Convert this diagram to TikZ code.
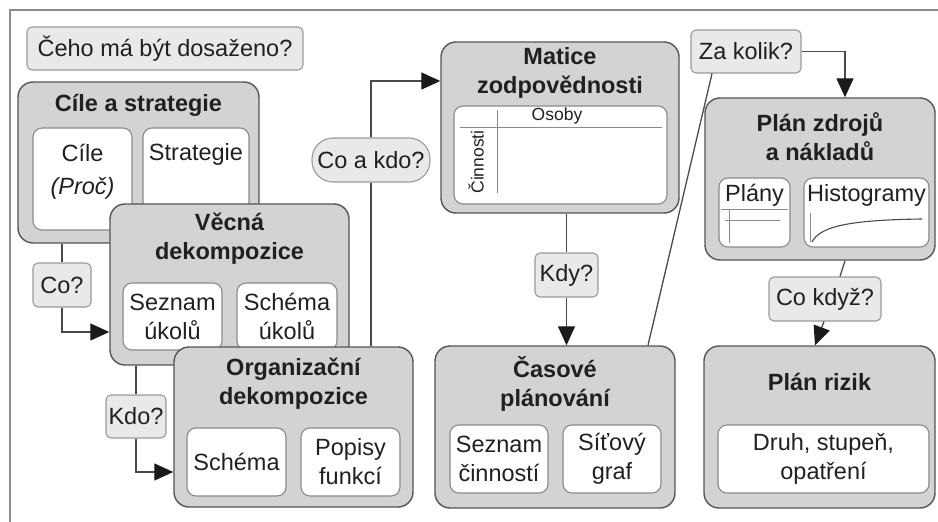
\documentclass[tikz,border=0pt]{standalone}
\usepackage{fontspec}
\setmainfont{Liberation Sans}
\usetikzlibrary{arrows.meta,calc}
\definecolor{boxgray}{HTML}{D3D3D3}
\definecolor{lblgray}{HTML}{E9E9E9}
\definecolor{bdr}{HTML}{555555}
\definecolor{ibdr}{HTML}{8A8A8A}
\definecolor{lbdr}{HTML}{9A9A9A}
\definecolor{lin}{HTML}{4A4A4A}
\definecolor{tipc}{HTML}{1A1A1A}
\definecolor{txtc}{HTML}{202020}
\definecolor{frm}{HTML}{8C8C8C}
\newcommand\fr{\fontsize{23.5}{29}\selectfont}
\newcommand\fb{\fontsize{23.5}{29}\selectfont\bfseries}
\newcommand\fsm{\fontsize{17.5}{20}\selectfont}
\newcommand\bx[7]{%
  \pgfmathsetmacro\bxw{#5-#3}\pgfmathsetmacro\bxh{#6-#4}%
  \pgfmathsetmacro\bxx{(#3+#5)/2}\pgfmathsetmacro\bxy{(#4+#6)/2}%
  \node[#2, minimum width=\bxw pt, minimum height=\bxh pt] (#1) at (\bxx,\bxy) {#7};}
\begin{document}
\begin{tikzpicture}[x=1pt,y=-1pt,
  big/.style={draw=bdr, fill=boxgray, rounded corners=15pt, line width=1.4pt, inner sep=0pt},
  inner/.style={draw=ibdr, fill=white, rounded corners=9pt, line width=1.1pt, inner sep=1pt,
    align=center, font=\fr, text=txtc},
  lbl/.style={draw=lbdr, fill=lblgray, rounded corners=5pt, line width=1.1pt, inner sep=1pt,
    align=center, font=\fr, text=txtc},
  pill/.style={lbl, rounded corners=21pt},
  title/.style={font=\fb, text=txtc, align=center, inner sep=0pt},
  txt/.style={font=\fr, text=txtc, align=center, inner sep=0pt},
  small/.style={font=\fsm, text=txtc, inner sep=0pt},
  detail/.style={draw=ibdr, line width=1pt},
  conn/.style={draw=lin, line width=1.3pt},
  arr/.style={conn, -{Triangle[length=19pt,width=17pt,color=tipc]}}]
\useasboundingbox (0,0) rectangle (938,522);
% frame
\draw[frm, line width=2.5pt] (10,522) -- (10,10) -- (938,10);

\bx{goal}{lbl}{27}{27}{303}{70}{Čeho má být dosaženo?}

% Cile a strategie
\bx{cile}{big}{18}{82}{259}{243}{}
\node[title] (cilet) at ([yshift=-24pt]cile.north) {Cíle a strategie};
\bx{cilei}{inner}{33}{128}{132}{230}{}
\node[txt] (cilex) at ([yshift=7.5pt]cilei.center) {Cíle\\[4pt]\textit{(Proč)}};
\bx{strat}{inner}{143}{128}{249}{230}{}
\node[txt] (stratx) at ([yshift=-27pt]strat.north) {Strategie};

% Vecna dekompozice
\bx{vecna}{big}{110}{204}{349}{365}{}
\node[title] (vecnat) at ([yshift=-35pt]vecna.north) {Věcná\\dekompozice};
\bx{seznam}{inner}{123}{283}{222}{350}{Seznam\\úkolů}
\bx{schemau}{inner}{237}{283}{337}{350}{Schéma\\úkolů}

% Organizacni dekompozice
\bx{org}{big}{174}{347}{413}{507}{}
\node[title] (orgt) at ([yshift=-37pt]org.north) {Organizační\\dekompozice};
\bx{schema}{inner}{187}{428}{286}{496}{Schéma}
\bx{popisy}{inner}{301}{428}{400}{496}{Popisy\\funkcí}

% Matice zodpovednosti
\bx{matice}{big}{441}{42}{679}{213}{}
\node[title] (matt) at ([yshift=-32pt]matice.north) {Matice\\zodpovědnosti};
\bx{maticei}{inner}{454}{106}{667}{204}{}
\draw[detail] (497,110) -- (497,193);
\draw[detail] (460,127) -- (662,127);
\node[small] (osoby) at (557,116) {Osoby};
\node[small, rotate=90] (cinn) at (476,162) {Činnosti};

% Casove planovani
\bx{casove}{big}{435}{346}{675}{508}{}
\node[title] (cast) at ([yshift=-39pt]casove.north) {Časové\\plánování};
\bx{sezc}{inner}{450}{425}{548}{493}{Seznam\\činností}
\bx{sit}{inner}{563}{425}{661}{493}{Síťový\\graf}

% Plan zdroju a nakladu
\bx{zdroje}{big}{705}{98}{935}{260}{}
\node[title] (zdrt) at ([yshift=-39pt]zdroje.north) {Plán zdrojů\\a nákladů};
\bx{plany}{inner}{719}{178}{790}{247}{}
\node[txt] (planyx) at (754.5,195) {Plány};
\draw[detail] (721,209) -- (788,209);
\draw[detail] (725,220) -- (780,220);
\draw[detail] (729,209) -- (729,243);
\bx{histo}{inner}{804}{178}{929}{247}{}
\node[txt] (histox) at (866.5,195) {Histogramy};
\draw[detail] (810,213) -- (810,242);
\draw[draw=lin, line width=1.1pt] (812,242) .. controls (820,227) and (846,220) .. (922,219);

% Plan rizik
\bx{rizika}{big}{704}{346}{935}{508}{}
\node[title] (rizt) at ([yshift=-37pt]rizika.north) {Plán rizik};
\bx{druh}{inner}{718}{425}{929}{493}{Druh, stupeň,\\opatření}

% labels
\bx{co}{lbl}{33}{263}{91}{307}{Co?}
\bx{kdo}{lbl}{106}{395}{166}{438}{Kdo?}
\bx{cakdo}{pill}{312}{138}{430}{182}{Co a kdo?}
\bx{kdy}{lbl}{535}{253}{598}{297}{Kdy?}
\bx{zakolik}{lbl}{691}{30}{801}{73}{Za kolik?}
\bx{cokdyz}{lbl}{769}{277}{881}{321}{Co když?}

% connector end points on box edges
\coordinate (cin) at (vecna.west |- 0,332);
\coordinate (kin) at (org.west |- 0,472);
\coordinate (min) at (matice.west |- 0,81);
\coordinate (zin) at (zdroje.north -| 845,0);

% connectors
\draw[conn] (cile.south -| co.north) -- (co.north);
\draw[arr] (co.south) |- (cin);
\draw[conn] (vecna.south -| kdo.north) -- (kdo.north);
\draw[arr] (kdo.south) |- (kin);
\draw[conn] (org.north -| cakdo.south) -- (cakdo.south);
\draw[arr] (cakdo.north) |- (min);
\draw[conn] (matice.south -| kdy.north) -- (kdy.north);
\draw[arr] (kdy.south) -- (kdy.south |- casove.north);
\draw[conn] ([xshift=93pt]casove.north) -- ([xshift=-34pt]zakolik.south);
\draw[arr] (zakolik.east) -| (zin);
\draw[conn] ([xshift=25pt]zdroje.south) -- ([xshift=15pt]cokdyz.north);
\draw[arr] ([xshift=-1pt]cokdyz.south) -- ([xshift=-4.5pt]rizika.north);
\end{tikzpicture}
\end{document}
